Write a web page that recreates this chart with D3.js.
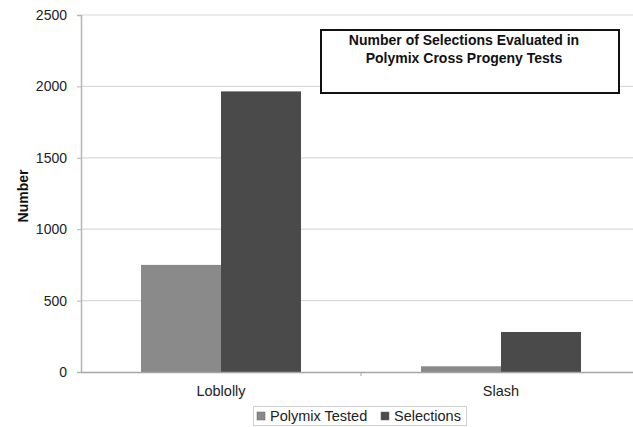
<!DOCTYPE html>
<html>
<head>
<meta charset="utf-8">
<script src="https://cdn.jsdelivr.net/npm/d3@7"></script>
<style>
  body { margin: 0; background: #fff; }
  svg { font-family: "Liberation Sans", Arial, sans-serif; }
</style>
</head>
<body>
<div class="canvas"></div>
<script>
// data
const categories = ['Loblolly', 'Slash'];
const seriesNames = ['Polymix Tested', 'Selections'];
const polymixTested = [750, 40];
const selections = [1965, 280];
const yTicks = [0, 500, 1000, 1500, 2000, 2500];

const colors = { 'Polymix Tested': '#8a8a8a', 'Selections': '#4a4a4a' };

const svg = d3.select('.canvas')
                .append('svg')
                .attr('width', 633)
                .attr('height', 427);

const margin = {top: 15, left: 81};
const plotRight = 641;
const plotBottom = 372;

// scales
const y = d3.scaleLinear()
            .domain([0, 2500])
            .range([plotBottom, margin.top]);

const x = d3.scaleBand()
            .domain(categories)
            .range([margin.left, plotRight]);

const xInner = d3.scaleBand()
                .domain(seriesNames)
                .range([0, x.bandwidth()])
                .paddingOuter(0.75)
                .paddingInner(0);

// gridlines
svg.append('g')
    .selectAll('line')
    .data(yTicks.filter(d => d > 0))
    .enter()
    .append('line')
    .attr('x1', margin.left)
    .attr('x2', plotRight)
    .attr('y1', d => y(d))
    .attr('y2', d => y(d))
    .attr('stroke', '#d9d9d9')
    .attr('stroke-width', 1.2);

// bars
const rows = categories.map((c, i) => ({
    cat: c,
    values: [
        {name: 'Polymix Tested', value: polymixTested[i]},
        {name: 'Selections', value: selections[i]}
    ]
}));

const groups = svg.selectAll('g.cat')
                    .data(rows)
                    .enter()
                    .append('g')
                    .attr('class', 'cat')
                    .attr('transform', d => `translate(${x(d.cat)}, 0)`);

groups.selectAll('rect')
        .data(d => d.values)
        .enter()
        .append('rect')
        .attr('x', d => xInner(d.name))
        .attr('width', xInner.bandwidth())
        .attr('y', d => y(d.value))
        .attr('height', d => plotBottom - y(d.value))
        .attr('fill', d => colors[d.name]);

// y axis
const yAxis = d3.axisLeft(y)
                .tickValues(yTicks)
                .tickFormat(d3.format('d'))
                .tickSize(4)
                .tickPadding(10);

const yAxisGroup = svg.append('g')
                        .attr('transform', `translate(${margin.left}, 0)`)
                        .call(yAxis);
yAxisGroup.select('.domain').attr('stroke', '#b5b5b5').attr('stroke-width', 1.5);
yAxisGroup.selectAll('.tick line').attr('stroke', '#b5b5b5');
yAxisGroup.selectAll('text')
            .attr('font-size', 14)
            .attr('fill', '#222')
            .style('font-family', '"Liberation Sans", Arial, sans-serif');

// x axis
const xAxis = d3.axisBottom(x)
                .tickSize(0)
                .tickPadding(14);

const xAxisGroup = svg.append('g')
                        .attr('transform', `translate(0, ${plotBottom})`)
                        .call(xAxis);
xAxisGroup.select('.domain').attr('stroke', '#a5a5a5').attr('stroke-width', 1.5);
xAxisGroup.selectAll('text')
            .attr('font-size', 14.5)
            .attr('fill', '#222')
            .style('font-family', '"Liberation Sans", Arial, sans-serif');

// divider tick between categories
xAxisGroup.append('line')
            .attr('x1', x('Slash'))
            .attr('x2', x('Slash'))
            .attr('y1', 0)
            .attr('y2', 4)
            .attr('stroke', '#a5a5a5');

// y label
svg.append('text')
    .attr('transform', 'translate(28, 196) rotate(-90)')
    .attr('text-anchor', 'middle')
    .attr('font-size', 14)
    .attr('font-weight', 'bold')
    .attr('fill', '#111')
    .text('Number');

// title box
svg.append('rect')
    .attr('x', 321)
    .attr('y', 30)
    .attr('width', 298)
    .attr('height', 63)
    .attr('fill', '#fff')
    .attr('stroke', '#111')
    .attr('stroke-width', 2);

const titleLines = ['Number of Selections Evaluated in', 'Polymix Cross Progeny Tests'];
svg.append('g')
    .selectAll('text')
    .data(titleLines)
    .enter()
    .append('text')
    .attr('x', 464)
    .attr('y', (d, i) => 45 + i * 18)
    .attr('text-anchor', 'middle')
    .attr('font-size', 14)
    .attr('font-weight', 'bold')
    .attr('fill', '#111')
    .text(d => d);

// legend
const legend = svg.append('g');
legend.append('rect')
        .attr('x', 253.5)
        .attr('y', 406.5)
        .attr('width', 213)
        .attr('height', 19)
        .attr('fill', '#fff')
        .attr('stroke', '#cfcfcf');

const legendX = [257, 381];
const items = legend.selectAll('g.item')
                    .data(seriesNames)
                    .enter()
                    .append('g')
                    .attr('transform', (d, i) => `translate(${legendX[i]}, 0)`);
items.append('rect')
        .attr('x', 0)
        .attr('y', 412)
        .attr('width', 8)
        .attr('height', 8)
        .attr('fill', d => colors[d])
        .attr('stroke', '#666')
        .attr('stroke-width', 0.5);
items.append('text')
        .attr('x', 13)
        .attr('y', 421)
        .attr('font-size', 14.5)
        .attr('fill', '#222')
        .text(d => d);
</script>
</body>
</html>
